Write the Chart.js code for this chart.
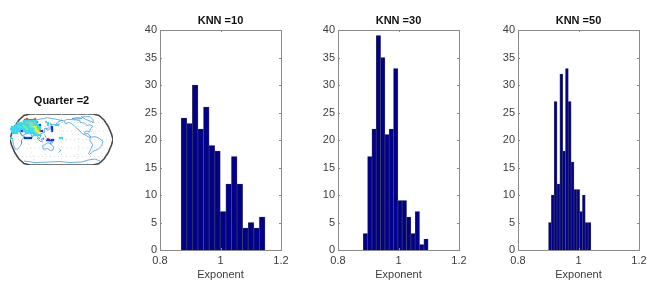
<!DOCTYPE html>
<html><head><meta charset="utf-8">
<style>
html,body{margin:0;padding:0;background:#fff;width:664px;height:290px;overflow:hidden;position:relative}
canvas{position:absolute;display:block;filter:blur(0.35px)}
</style>
<script src="https://cdn.jsdelivr.net/npm/chart.js@4"></script>
</head><body>
<canvas id="map" width="123" height="90" style="left:0;top:85px"></canvas>
<canvas id="h1" width="181" height="290" style="left:130px;top:0"></canvas>
<canvas id="h2" width="181" height="290" style="left:308px;top:0"></canvas>
<canvas id="h3" width="181" height="290" style="left:488px;top:0"></canvas>
<script>
// ---- histogram data ----
const knnTitles = ['KNN =10','KNN =30','KNN =50'];
const xTickValues = [0.8,1.0,1.2];
const xTickLabels = ['0.8','1','1.2'];
const binCentersKnn10 = [0.8792,0.8977,0.9162,0.9346,0.9531,0.9716,0.9901,1.0085,1.0270,1.0455,1.0639,1.0824,1.1009,1.1193,1.1378];
const countsKnn10 = [24,23,30,22,26,19,18,7,12,17,12,4,5,4,6];
const binCentersKnn30 = [0.8907,0.9050,0.9193,0.9336,0.9479,0.9622,0.9765,0.9908,1.0051,1.0194,1.0337,1.0480,1.0623,1.0766,1.0909];
const countsKnn30 = [3,17,22,39,35,21,22,33,9,9,6,3,7,1,2];
const binCentersKnn50 = [0.9057,0.9150,0.9243,0.9337,0.9430,0.9523,0.9617,0.9710,0.9803,0.9897,0.9990,1.0083,1.0177,1.0270,1.0363];
const countsKnn50 = [5,10,27,12,32,18,33,27,16,11,11,7,10,5,5];

// ---- map data (map units, x 0..103, y 0..51) ----
const mapTitle = 'Quarter =2';
const frame = [[20,51],[83,51],[89,49.5],[94,45],[98,39],[101.5,31],[103,25.5],[101.5,20],[98,12],[94,6],[89,1.5],[83,0],[20,0],[14,1.5],[9,6],[5,12],[1.5,20],[0,25.5],[1.5,31],[5,39],[9,45],[14,49.5],[20,51]];
const graticule = [
 [[1,34],[102,34]],[[0.5,17],[102.5,17]],[[0,25.5],[103,25.5]],[[4,42.5],[99,42.5]],[[4,8.5],[99,8.5]],
 [[51.5,51],[51.5,0]],[[36,51],[34,25.5],[36,0]],[[67,51],[69,25.5],[67,0]],[[26,51],[17,25.5],[26,0]],[[77,51],[86,25.5],[77,0]]
];
const coasts = [
 [[1.6,35.7],[4.4,36],[5.7,34.6],[9.2,34.3],[10.6,31.2],[12.3,28.9],[14.6,28.6],[11.5,24.6],[11.5,21.3],[10,18.7],[7.7,15.9],[5.2,15.9],[3.4,20.4],[2.6,25.5],[2.6,26.9],[0.3,26.9]],
 [[2.6,37.7],[5.3,38],[6.3,36.5],[8,38],[10.4,35.7],[10,33.4],[12.3,29.2],[16.9,31.7],[16.3,32.9],[14.3,34],[16.3,32.9],[19.2,32.6],[20.9,30.6],[22.3,27.8],[22.9,29.7],[25.7,31.7],[27.2,30],[28,27.8],[29.5,26],[30,28.3],[31.2,29.2],[30.6,31.2],[34.3,32.6],[34.9,34.3],[34.3,36.5],[36.6,36.8],[36.7,35.4],[37.5,36.3],[39.5,37.9],[41.8,40.5],[40.1,41],[45.5,40.2],[47.5,42.8],[51.5,44.7],[53.5,44.2],[43.7,46.2],[37.3,47.3],[30.1,45.9],[21.5,44.2],[20.5,45.6],[13.6,43.3],[11.5,42.5],[8,40.5],[5.2,39.7],[2.6,37.7]],
 [[37.3,34.6],[38.9,35.4],[40.2,36.3],[41,38]],
 [[34.3,30.6],[35,29.5],[36,27.5]],
 [[31.2,25.8],[33.7,27.2],[33.5,25.5],[31.5,24.7],[31.2,25.8]],
 [[27.2,26.9],[30,24.1],[28.9,24.7],[27.2,26.9]],
 [[30,23.5],[32.9,23.2]],
 [[37.5,25.2],[40.3,24.7],[42.9,22.7],[39.5,23.2],[37.5,25.2]],
 [[32.6,19.3],[34.9,20.4],[37.2,22.1],[38.9,22.1],[40.1,20.7],[40.6,22.4],[41.8,20.1],[43.8,17.9],[42.9,15],[40.1,14.7],[37.5,16.4],[33.2,15.9],[32.6,19.3]],
 [[49.5,15.6],[50.9,14.7],[48.3,12.5]],
 [[54.1,43.9],[55.6,41.1],[58.4,42.5],[61.1,41.9],[64.3,39.1],[66.7,36.8],[69,35.1],[71.5,32],[73,30.9],[75.8,29.7],[78.7,28],[80.1,27.8],[81,28.3],[79,29.7],[78.1,31.4],[74.7,31.2],[74.7,33.1],[77,34],[79,33.1],[79.9,34.3],[80.6,36.3],[82.1,38],[83.1,38.8],[80.1,40.2],[77.2,39.6],[74.5,41.9],[70.9,42.5],[70,44.7],[63.5,45.3],[56.5,45.6],[54.1,43.9]],
 [[83.5,42.5],[83.1,45.3],[80,48.5],[71.4,48.1],[76,45.5],[80,44],[83.5,42.5]],
 [[62,46.5],[68,47.5],[72,46.5],[66,46],[62,46.5]],
 [[80.1,27.8],[85.8,28.3],[89.2,26.6],[93,23.8],[91.7,19],[88.7,16.2],[83,13.6],[79.4,10.5],[78.5,11.3],[81,16],[82.7,20.4],[79.8,24.1],[80.1,26.1],[80.1,27.8]],
 [[14,4],[25,2.5],[40,3],[50,3.5],[60,2.5],[72,3],[78,5],[85,6],[90,4]]
];
const heatBlue = [[15,27],[17,27],[19,27],[21,27],[37,25],[39,25],[41,25],[43,25],[42,38],[42,36],[42,34],[30,40],[32,34],[12,34]];
const heatCyan = [[14,44],[16,44],[18,44],[20,44],[22,44],[24,44],[26,44],[8,42],[10,42],[12,42],[14,42],[16,42],[24,42],[26,42],[6,40],[8,40],[10,40],[12,40],[16,40],[18,40],[26,40],[28,40],[2,38],[4,38],[6,38],[8,38],[12,38],[18,38],[28,38],[30,38],[1,36],[2,36],[4,36],[6,36],[8,36],[10,36],[12,36],[14,36],[20,36],[22,36],[30,36],[2,34],[4,34],[6,34],[8,34],[14,34],[16,34],[18,34],[20,34],[22,34],[3,32],[5,32],[7,32],[16,32],[18,32],[20,32],[22,32],[24,32],[24,30],[26,30],[28,30],[30,30],[1,27],[50,27],[52,27],[36,43],[38,42],[38,40],[46,40],[48,40]];
const heatGreen = [[10,38],[14,38],[16,38],[20,38],[22,38],[16,36],[18,36],[24,36],[20,40],[22,40],[24,40],[14,40],[18,42],[20,42],[22,42],[24,34],[28,36],[26,32]];
const heatYellow = [[26,36],[26,34],[28,34],[28,32],[24,38],[26,38],[49,41]];
const heatRed = [[17,46],[19,45],[21,45],[23,45],[15,45],[25,46],[38,26],[30,34],[27,43]];

const fontFamily = '"Liberation Sans", Arial, sans-serif';
const textColor = '#3c3c3c';
const axisColor = '#8a8a8a';

const boxAndTicks = {
  id:'boxAndTicks',
  afterLayout(chart){ chart.scales.y.left = 0; },
  afterDatasetsDraw(chart){
    const {ctx,chartArea:a,scales:{x,y}} = chart;
    ctx.save();
    ctx.strokeStyle = axisColor; ctx.lineWidth = 1;
    ctx.strokeRect(Math.round(a.left)+.5,Math.round(a.top)+.5,Math.round(a.width),Math.round(a.height));
    const L = 2;
    ctx.beginPath();
    y.ticks.forEach(t=>{
      const p = Math.round(y.getPixelForValue(t.value))+.5;
      ctx.moveTo(a.left,p);ctx.lineTo(a.left+L,p);
      ctx.moveTo(a.right-L,p);ctx.lineTo(a.right,p);
    });
    x.ticks.forEach(t=>{
      const p = Math.round(x.getPixelForValue(t.value))+.5;
      ctx.moveTo(p,a.top);ctx.lineTo(p,a.top+L);
      ctx.moveTo(p,a.bottom-L);ctx.lineTo(p,a.bottom);
    });
    ctx.stroke();
    ctx.restore();
  }
};

function histogram(id,title,centers,counts){
  new Chart(document.getElementById(id),{
    type:'bar',
    data:{datasets:[{
      data:centers.map((c,i)=>({x:c,y:counts[i]})),
      backgroundColor:'#00008a',
      borderColor:'#3b3b5c',
      borderWidth:0.7,
      barPercentage:1,
      categoryPercentage:1
    }]},
    options:{
      responsive:false,animation:false,
      layout:{padding:{left:30,right:30,top:0,bottom:0}},
      plugins:{
        legend:{display:false},tooltip:{enabled:false},
        title:{display:true,text:title,color:'#111',font:{family:fontFamily,size:11,weight:'bold',lineHeight:1.2},padding:{top:14,bottom:2.8}}
      },
      scales:{
        x:{type:'linear',min:0.8,max:1.2,offset:false,
          afterBuildTicks(s){s.ticks = xTickValues.map(v=>({value:v}));},
          afterFit(s){s.height=40;s.paddingLeft=0;s.paddingRight=0;},
          grid:{display:false,drawTicks:false},border:{display:false},
          ticks:{callback:(v,i)=>xTickLabels[i],color:textColor,padding:4,maxRotation:0,autoSkip:false,font:{family:fontFamily,size:11}},
          title:{display:true,text:'Exponent',color:textColor,font:{family:fontFamily,size:11},padding:{top:0,bottom:8}}
        },
        y:{min:0,max:40,
          afterFit(s){s.width=0;s.paddingTop=0;s.paddingBottom=0;},
          grid:{display:false,drawTicks:false},border:{display:false},
          ticks:{stepSize:5,color:textColor,padding:3,font:{family:fontFamily,size:11}}
        }
      }
    },
    plugins:[boxAndTicks]
  });
}
histogram('h1',knnTitles[0],binCentersKnn10,countsKnn10);
histogram('h2',knnTitles[1],binCentersKnn30,countsKnn30);
histogram('h3',knnTitles[2],binCentersKnn50,countsKnn50);

const pts = a => a.map(p=>({x:p[0],y:p[1]}));
const cells = (a,c)=>({type:'scatter',data:pts(a),showLine:false,pointStyle:'rect',pointRadius:1.6,pointBorderWidth:0,pointBackgroundColor:c});
const lineSet = (a,c,w,dash)=>({type:'scatter',data:pts(a),showLine:true,pointRadius:0,borderColor:c,borderWidth:w,borderDash:dash||[],tension:0});
new Chart(document.getElementById('map'),{
  type:'scatter',
  data:{datasets:[
    ...graticule.map(g=>lineSet(g,'#cfcfcf',0.7,[1,3])),
    cells(heatCyan,'#38d8f0'),cells(heatBlue,'#1030f0'),cells(heatGreen,'#70e8a0'),cells(heatYellow,'#f4ee20'),cells(heatRed,'#e8501c'),
    ...coasts.map(c=>lineSet(c,'#3f9be0',0.8)),
    lineSet(frame,'#4a4a4a',1.6)
  ]},
  options:{
    responsive:false,animation:false,
    layout:{padding:{left:10,right:10,top:0,bottom:10}},
    plugins:{legend:{display:false},tooltip:{enabled:false},
      title:{display:true,text:mapTitle,color:'#111',font:{family:fontFamily,size:11,weight:'bold',lineHeight:1.2},padding:{top:9,bottom:6.8}}},
    scales:{x:{display:false,min:0,max:103},y:{display:false,min:0,max:51}}
  }
});
</script>
</body></html>
